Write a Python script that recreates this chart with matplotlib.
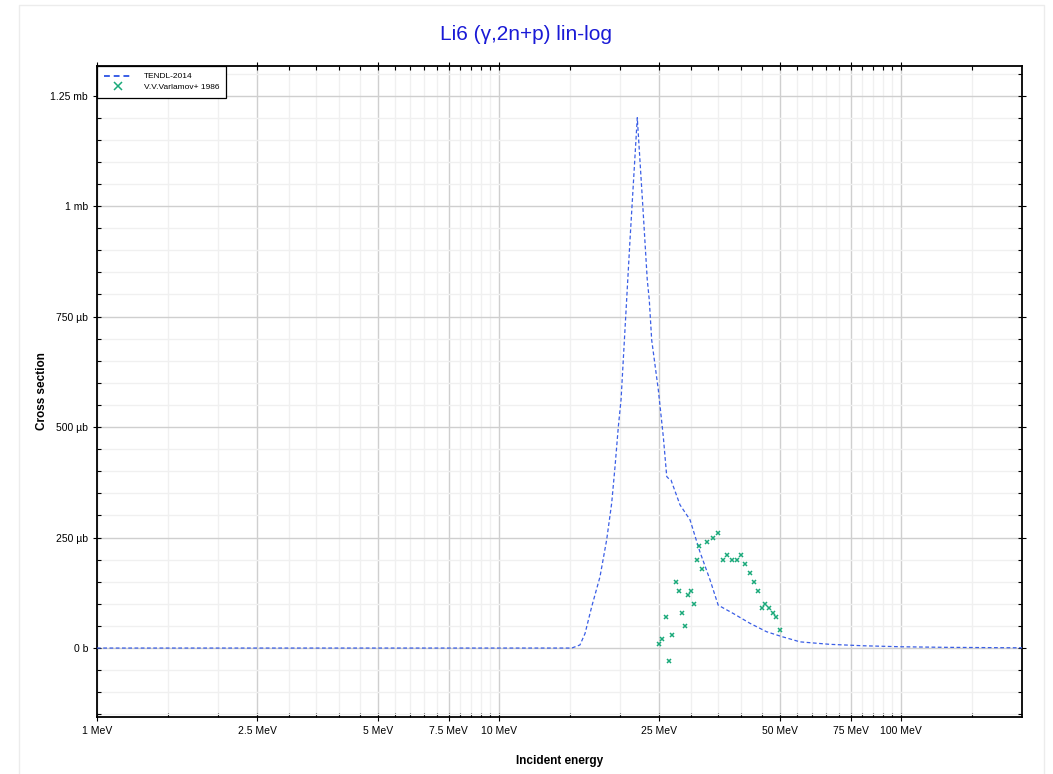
import matplotlib
matplotlib.use("Agg")
import matplotlib.pyplot as plt
import numpy as np
from matplotlib.ticker import FixedLocator, FixedFormatter, NullFormatter
from matplotlib.patches import Rectangle

plt.rcParams['font.family'] = ['Liberation Sans', 'DejaVu Sans']

# TENDL-2014 evaluated curve (MeV, microbarn)
tendl_e = [1.0, 15.17, 15.9, 16.37, 17.0, 17.83, 18.53, 19.07, 19.44, 19.81, 20.12,
           21.18, 22.08, 22.78, 23.38, 23.65, 23.98, 24.91, 25.63, 26.14, 26.52,
           26.79, 28.2, 29.87, 31.6, 33.5, 35.1, 38.3, 42.1, 46.3, 50.5, 56.1,
           66.6, 80.4, 100.4, 130.0, 200.0]
tendl_xs = [0, 0, 7, 33, 93, 161, 245, 328, 411, 501, 562,
            924, 1200, 1003, 833, 788, 697, 584, 478, 388, 382,
            380, 324, 290, 218, 154, 97, 78, 56, 37, 26, 14,
            8.4, 5.2, 2.9, 1.6, 0.5]

# V.V.Varlamov+ 1986 measured points (MeV, microbarn)
exp_e = [25, 25.5, 26, 26.5, 27, 27.5, 28, 28.5, 29, 29.5, 30, 30.5, 31, 31.5, 32,
         33, 34, 35, 36, 37, 38, 39, 40, 41, 42, 43, 44, 45, 46, 47, 48, 49, 50]
exp_xs = [10, 20, 70, -30, 30, 150, 130, 80, 50, 120, 130, 100, 200, 230, 180,
          240, 250, 260, 200, 210, 200, 200, 210, 190, 170, 150, 130, 90, 100, 90,
          80, 70, 40]

x_major = [1, 2.5, 5, 7.5, 10, 25, 50, 75, 100]
x_labels = ['1 MeV', '2.5 MeV', '5 MeV', '7.5 MeV', '10 MeV', '25 MeV', '50 MeV', '75 MeV', '100 MeV']
y_major = [0, 250, 500, 750, 1000, 1250]
y_labels = ['0 b', '250 µb', '500 µb', '750 µb', '1 mb', '1.25 mb']

fig = plt.figure(figsize=(10.53, 7.74), dpi=100)
fig.patches.append(Rectangle((19 / 1053, -0.01), 1025 / 1053, 1 - 5 / 774 + 0.01,
                             transform=fig.transFigure, fill=False,
                             edgecolor='#ececec', linewidth=1))
ax = fig.add_axes([97 / 1053, 1 - 717 / 774, 925 / 1053, 651 / 774])

ax.plot(tendl_e, tendl_xs, color='#3a5ee6', lw=0.9, dashes=(3, 2), label='TENDL-2014', zorder=3)
ax.plot(exp_e, exp_xs, ls='none', marker='x', ms=3.5, mew=1.1, color='#1aa97a',
        label='V.V.Varlamov+ 1986', zorder=4)

ax.set_xscale('log')
ax.set_xlim(1, 200)
ax.set_ylim(-156, 1317)

x_minor = list(np.arange(1.5, 10, 0.5)) + list(range(15, 100, 5)) + [150]
x_minor = [v for v in x_minor if v not in x_major]
ax.xaxis.set_major_locator(FixedLocator(x_major))
ax.xaxis.set_major_formatter(FixedFormatter(x_labels))
ax.xaxis.set_minor_locator(FixedLocator(x_minor))
ax.xaxis.set_minor_formatter(NullFormatter())
ax.yaxis.set_major_locator(FixedLocator(y_major))
ax.yaxis.set_major_formatter(FixedFormatter(y_labels))
ax.yaxis.set_minor_locator(FixedLocator([v for v in range(-150, 1301, 50) if v not in y_major]))

ax.grid(which='major', color='#cfcfcf', lw=1.0)
ax.grid(which='minor', color='#f0f0f0', lw=1.0)
ax.set_axisbelow(True)

ax.tick_params(which='major', direction='inout', length=6, width=0.8, labelsize=7.5,
               top=True, right=True)
ax.tick_params(which='minor', direction='in', length=3, width=0.8, top=True, right=True)
for s in ax.spines.values():
    s.set_linewidth(1.3)

ax.set_xlabel('Incident energy', fontsize=8.5, fontweight='bold', labelpad=14)
ax.set_ylabel('Cross section', fontsize=8.5, fontweight='bold', labelpad=2)
fig.text(0.5, 1 - 35 / 774, 'Li6 (γ,2n+p) lin-log', ha='center', va='center',
         fontsize=15, color='#1a1ad6')

leg = ax.legend(loc='upper left', fontsize=6, frameon=True, fancybox=False,
                framealpha=1, edgecolor='black', borderaxespad=0, handlelength=3.4,
                borderpad=0.8, labelspacing=0.35, handletextpad=1.4, markerscale=1.6)
leg.get_frame().set_linewidth(0.9)
for h in leg.get_lines()[:1]:
    h.set_linewidth(1.4)

fig.savefig('out.png', dpi=100)
